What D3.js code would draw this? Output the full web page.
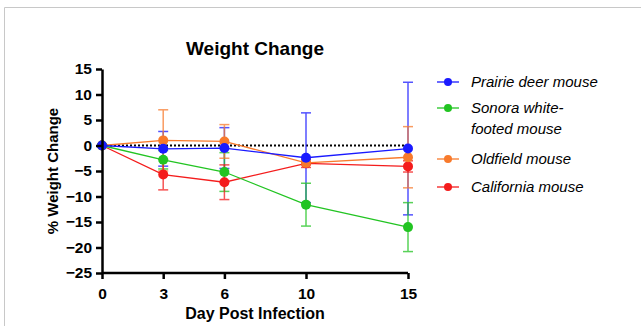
<!DOCTYPE html>
<html>
<head>
<meta charset="utf-8">
<script src="https://cdn.jsdelivr.net/npm/d3@7"></script>
<style>
  body { margin: 0; background: #fff; }
  svg { display: block; font-family: "Liberation Sans", Arial, sans-serif; }
</style>
</head>
<body>
<svg id="chart" width="641" height="326"></svg>
<script>
// data
const days = [0, 3, 6, 10, 15];
const xTicks = [0, 3, 6, 10, 15];
const yTicks = [15, 10, 5, 0, -5, -10, -15, -20, -25];

const seriesNames = ["Prairie deer mouse", "Sonora white-footed mouse", "Oldfield mouse", "California mouse"];
const seriesColors = ["#1a1aff", "#22c422", "#f87a2c", "#f41c1c"];

const prairieMean = [0, -0.65, -0.5, -2.4, -0.6];
const prairieErr = [0, 3.4, 4.0, 8.8, 13.0];
const sonoraMean = [0, -2.8, -5.2, -11.6, -16.0];
const sonoraErr = [0, 1.8, 3.8, 4.2, 4.8];
const oldfieldMean = [0, 1.0, 0.8, -3.4, -2.3];
const oldfieldErr = [0, 6.0, 3.3, 0.4, 6.0];
const californiaMean = [0, -5.7, -7.2, -3.5, -4.1];
const californiaErr = [0, 3.0, 3.4, 0.8, 1.1];

const means = [prairieMean, sonoraMean, oldfieldMean, californiaMean];
const errs = [prairieErr, sonoraErr, oldfieldErr, californiaErr];

const series = seriesNames.map((name, i) => ({
  name,
  color: seriesColors[i],
  points: days.map((d, j) => ({ day: d, y: means[i][j], e: errs[i][j] }))
}));

// layout
const margin = { top: 69, right: 233, bottom: 53, left: 102 };
const width = 641, height = 326;

const $svg = d3.select("#chart");

// light frame
$svg.append("path")
  .attr("d", "M4.5,330 V7.5 H645")
  .attr("fill", "none")
  .attr("stroke", "#c8c8c8")
  .attr("stroke-width", 1);

const x = d3.scaleLinear().domain([0, 15]).range([margin.left, width - margin.right]);
const y = d3.scaleLinear().domain([-25, 15]).range([height - margin.bottom, margin.top]);

// zero reference line
$svg.append("line")
  .attr("x1", x(0)).attr("x2", x(15))
  .attr("y1", y(0)).attr("y2", y(0))
  .attr("stroke", "#000")
  .attr("stroke-width", 2)
  .attr("stroke-dasharray", "2,2");

// error bars first
const $err = $svg.append("g");
series.forEach(s => {
  const g = $err.append("g").attr("stroke", s.color).attr("stroke-width", 1.5).attr("opacity", 0.75);
  const pts = s.points.filter(p => p.e > 0);
  g.selectAll("line.v").data(pts).join("line")
    .attr("class", "v")
    .attr("x1", d => x(d.day)).attr("x2", d => x(d.day))
    .attr("y1", d => y(d.y + d.e)).attr("y2", d => y(d.y - d.e));
  g.selectAll("line.top").data(pts).join("line")
    .attr("class", "top")
    .attr("x1", d => x(d.day) - 5).attr("x2", d => x(d.day) + 5)
    .attr("y1", d => y(d.y + d.e)).attr("y2", d => y(d.y + d.e));
  g.selectAll("line.bot").data(pts).join("line")
    .attr("class", "bot")
    .attr("x1", d => x(d.day) - 5).attr("x2", d => x(d.day) + 5)
    .attr("y1", d => y(d.y - d.e)).attr("y2", d => y(d.y - d.e));
});

// lines and dots, blue on top
const line = d3.line().x(d => x(d.day)).y(d => y(d.y));
series.slice().reverse().forEach(s => {
  $svg.append("path")
    .datum(s.points)
    .attr("d", line)
    .attr("fill", "none")
    .attr("stroke", s.color)
    .attr("stroke-width", 1.3);
  $svg.append("g").selectAll("circle").data(s.points).join("circle")
    .attr("cx", d => x(d.day))
    .attr("cy", d => y(d.y))
    .attr("r", 5)
    .attr("fill", s.color);
});

// axes
const xAxis = d3.axisBottom(x).tickValues(xTicks).tickSize(6).tickSizeOuter(0).tickPadding(9);
const yAxis = d3.axisLeft(y).tickValues(yTicks).tickSize(6).tickSizeOuter(0).tickPadding(4);

const $x = $svg.append("g")
  .attr("transform", `translate(0,${height - margin.bottom})`)
  .call(xAxis);
const $y = $svg.append("g")
  .attr("transform", `translate(${margin.left},0)`)
  .call(yAxis);

[$x, $y].forEach($a => {
  $a.select(".domain").attr("stroke", "#000").attr("stroke-width", 2.5);
  $a.selectAll(".tick line").attr("stroke", "#000").attr("stroke-width", 2.5);
  $a.selectAll(".tick text")
    .attr("fill", "#000")
    .attr("font-size", 15.5)
    .attr("font-weight", "bold")
    .attr("font-family", "'Liberation Sans', Arial, sans-serif");
});
$x.select(".domain").attr("d", `M${x(0)},0H${x(15)}`);

// titles
$svg.append("text")
  .attr("x", 255).attr("y", 55)
  .attr("text-anchor", "middle")
  .attr("font-size", 19).attr("font-weight", "bold")
  .text("Weight Change");

$svg.append("text")
  .attr("x", 255).attr("y", 319)
  .attr("text-anchor", "middle")
  .attr("font-size", 16).attr("font-weight", "bold")
  .text("Day Post Infection");

$svg.append("text")
  .attr("transform", `translate(58,${y(-5)}) rotate(-90)`)
  .attr("text-anchor", "middle")
  .attr("font-size", 15).attr("font-weight", "bold")
  .text("% Weight Change");

// legend
const legendRows = [
  { lines: ["Prairie deer mouse"], y: 82 },
  { lines: ["Sonora white-", "footed mouse"], y: 108 },
  { lines: ["Oldfield mouse"], y: 159 },
  { lines: ["California mouse"], y: 187 }
];
const $leg = $svg.append("g");
legendRows.forEach((row, i) => {
  const g = $leg.append("g").attr("transform", `translate(0,${row.y})`);
  g.append("line")
    .attr("x1", 437).attr("x2", 459)
    .attr("stroke", seriesColors[i]).attr("stroke-width", 1.3);
  g.append("circle").attr("cx", 448).attr("r", 4).attr("fill", seriesColors[i]);
  const t = g.append("text")
    .attr("x", 471).attr("y", 5)
    .attr("font-size", 15).attr("font-style", "italic");
  row.lines.forEach((l, k) => {
    t.append("tspan").attr("x", 471).attr("dy", k === 0 ? 0 : 21).text(l);
  });
});
</script>
</body>
</html>
